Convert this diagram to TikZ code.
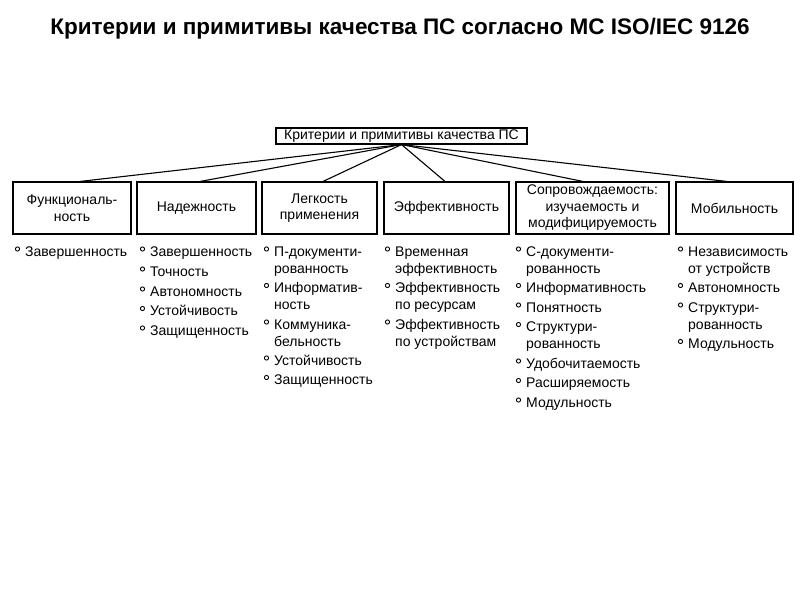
\documentclass[tikz,border=0pt]{standalone}
\usepackage{fontspec}
\setmainfont{Liberation Sans}
\begin{document}
\begin{tikzpicture}[x=1pt,y=-1pt,
  lw/.style={line width=1.1pt},
  box/.style={draw,lw,inner sep=0pt,align=center,font=\fontsize{14}{16.5}\selectfont},
  itm/.style={anchor=base west,inner sep=0pt,align=left,font=\fontsize{14}{17}\selectfont},
  bul/.style={line width=0.9pt},
  con/.style={lw}]
\useasboundingbox (0,0) rectangle (800,600);
% \bulat{node}{number of lines}: bullet before the first line of an item
\newcommand\bulat[2]{\draw[bul] ([xshift=-7.5pt,yshift={7pt+17pt*(#2-1)}]#1.base west) circle (2.1pt);}
\node[font=\bfseries\fontsize{22.5}{24}\selectfont] (title) at (400,29) {Критерии и примитивы качества ПС согласно МС ISO/IEC 9126};
\node[box,minimum width=251pt,minimum height=16pt] (root) at (401.5,136) {Критерии и примитивы качества ПС};
\node[box,minimum width=118pt,minimum height=52pt] (b1) at (72,208) {Функциональ-\\ность};
\node[box,minimum width=119pt,minimum height=52pt] (b2) at (196.5,208) {Надежность};
\node[box,minimum width=115pt,minimum height=52pt] (b3) at (319.5,208) {Легкость\\применения};
\node[box,minimum width=125pt,minimum height=52pt] (b4) at (446.5,208) {Эффективность};
\node[box,minimum width=153pt,minimum height=52pt] (b5) at (592.5,208) {Сопровождаемость:\\изучаемость и\\модифицируемость};
\node[box,minimum width=117pt,minimum height=52pt] (b6) at (734.5,208) {Мобильность};
\draw[con] (root.south) -- ([xshift=8pt]b1.north);
\draw[con] (root.south) -- ([xshift=3.5pt]b2.north);
\draw[con] (root.south) -- ([xshift=3.5pt]b3.north);
\draw[con] (root.south) -- ([xshift=-1.5pt]b4.north);
\draw[con] (root.south) -- ([xshift=-9.5pt]b5.north);
\draw[con] (root.south) -- ([xshift=-7.5pt]b6.north);
% column 1
\node[itm] (a1) at (25,256) {Завершенность}; \bulat{a1}{1}
% column 2
\node[itm] (c1) at (150,256) {Завершенность}; \bulat{c1}{1}
\node[itm] (c2) at (150,276) {Точность}; \bulat{c2}{1}
\node[itm] (c3) at (150,296) {Автономность}; \bulat{c3}{1}
\node[itm] (c4) at (150,315.5) {Устойчивость}; \bulat{c4}{1}
\node[itm] (c5) at (150,335) {Защищенность}; \bulat{c5}{1}
% column 3
\node[itm] (d1) at (274,273) {П-документи-\\рованность}; \bulat{d1}{2}
\node[itm] (d2) at (274,309.5) {Информатив-\\ность}; \bulat{d2}{2}
\node[itm] (d3) at (274,346) {Коммуника-\\бельность}; \bulat{d3}{2}
\node[itm] (d4) at (274,365) {Устойчивость}; \bulat{d4}{1}
\node[itm] (d5) at (274,384.5) {Защищенность}; \bulat{d5}{1}
% column 4
\node[itm] (e1) at (395,273) {Временная\\эффективность}; \bulat{e1}{2}
\node[itm] (e2) at (395,309.5) {Эффективность\\по ресурсам}; \bulat{e2}{2}
\node[itm] (e3) at (395,346) {Эффективность\\по устройствам}; \bulat{e3}{2}
% column 5
\node[itm] (f1) at (526,273) {С-документи-\\рованность}; \bulat{f1}{2}
\node[itm] (f2) at (526,292.5) {Информативность}; \bulat{f2}{1}
\node[itm] (f3) at (526,312) {Понятность}; \bulat{f3}{1}
\node[itm] (f4) at (526,348.5) {Структури-\\рованность}; \bulat{f4}{2}
\node[itm] (f5) at (526,368) {Удобочитаемость}; \bulat{f5}{1}
\node[itm] (f6) at (526,387.5) {Расширяемость}; \bulat{f6}{1}
\node[itm] (f7) at (526,407) {Модульность}; \bulat{f7}{1}
% column 6
\node[itm] (g1) at (688,273) {Независимость\\от устройств}; \bulat{g1}{2}
\node[itm] (g2) at (688,292.5) {Автономность}; \bulat{g2}{1}
\node[itm] (g3) at (688,329) {Структури-\\рованность}; \bulat{g3}{2}
\node[itm] (g4) at (688,348.5) {Модульность}; \bulat{g4}{1}
\end{tikzpicture}
\end{document}
